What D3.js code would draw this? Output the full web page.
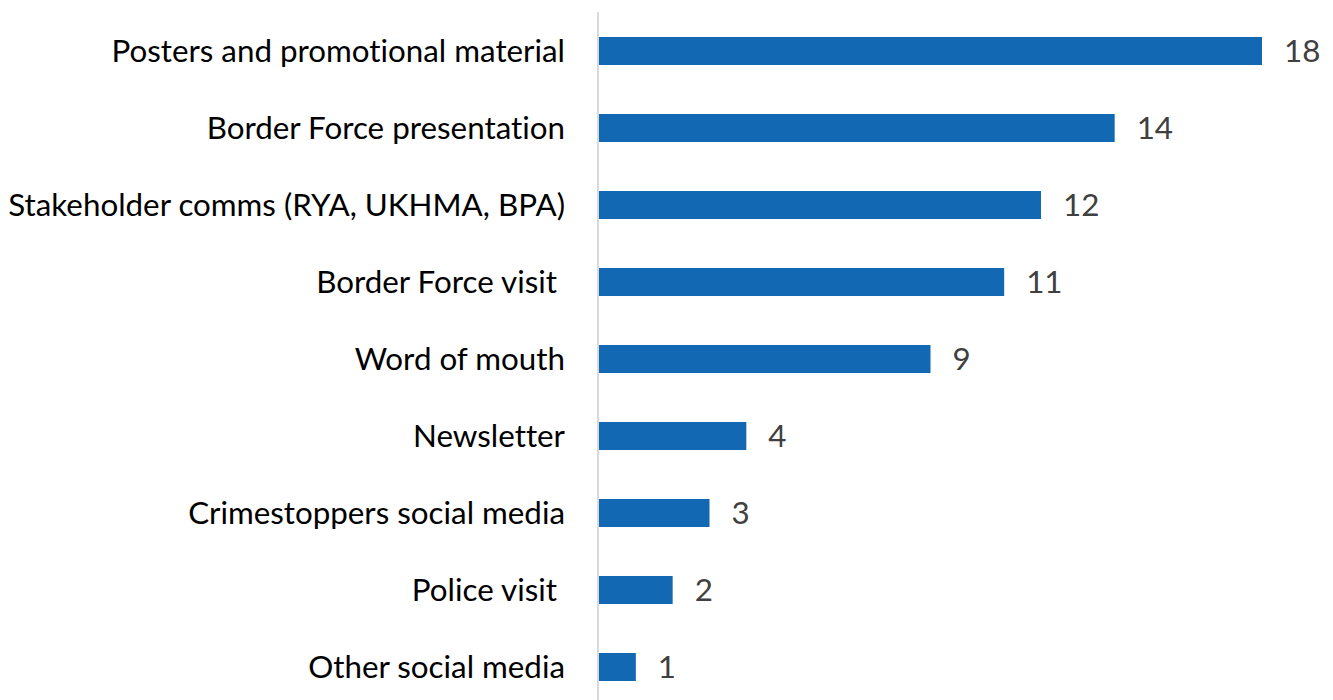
<!DOCTYPE html>
<html>
<head>
<meta charset="utf-8">
<script src="https://cdn.jsdelivr.net/npm/d3@7"></script>
<style>
html,body{margin:0;padding:0;background:#fff;}
svg{display:block;}
text{font-variant-ligatures:none;font-feature-settings:"liga" 0;}
</style>
</head>
<body>
<svg id="chart" width="1333" height="700"></svg>
<script>
const categories = [
  "Posters and promotional material",
  "Border Force presentation",
  "Stakeholder comms (RYA, UKHMA, BPA)",
  "Border Force visit ",
  "Word of mouth",
  "Newsletter",
  "Crimestoppers social media",
  "Police visit ",
  "Other social media"
];
const values = [18, 14, 12, 11, 9, 4, 3, 2, 1];

const svg = d3.select("#chart");
const W = 1333, H = 700;
const fontFamily = "Lato, 'Open Sans', sans-serif";

const x = d3.scaleLinear().domain([0, 18]).range([599, 1262]);
const y = d3.scaleBand().domain(categories).range([12.5, 705.5]).paddingInner(0.636).paddingOuter(0.318);

// fit font size so the longest label matches the reference width
const probe = svg.append("text").attr("font-family", fontFamily).attr("font-size", 100).text(categories[2]);
const w100 = probe.node().getComputedTextLength();
probe.remove();
const fs = 100 * 557 / w100;

// axis line
svg.append("line")
  .attr("x1", 598).attr("x2", 598)
  .attr("y1", 12).attr("y2", H)
  .attr("stroke", "#d9d9d9").attr("stroke-width", 2);

// bars
svg.selectAll("rect.bar").data(categories).join("rect")
  .attr("class", "bar")
  .attr("x", x(0))
  .attr("y", d => y(d))
  .attr("width", (d, i) => x(values[i]) - x(0))
  .attr("height", y.bandwidth())
  .attr("fill", "#1368B3");

// category labels
svg.selectAll("text.cat").data(categories).join("text")
  .attr("class", "cat")
  .attr("x", 565)
  .attr("y", d => y(d) + y.bandwidth() / 2)
  .attr("dy", "0.35em")
  .attr("text-anchor", "end")
  .attr("font-family", fontFamily)
  .attr("font-size", fs)
  .attr("fill", "#000")
  .style("white-space", "pre")
  .attr("xml:space", "preserve")
  .text(d => d);

// value labels
svg.selectAll("text.val").data(categories).join("text")
  .attr("class", "val")
  .attr("x", (d, i) => x(values[i]) + 22)
  .attr("y", d => y(d) + y.bandwidth() / 2)
  .attr("dy", "0.35em")
  .attr("font-family", fontFamily)
  .attr("font-size", fs)
  .attr("fill", "#404040")
  .text((d, i) => values[i]);
</script>
</body>
</html>
